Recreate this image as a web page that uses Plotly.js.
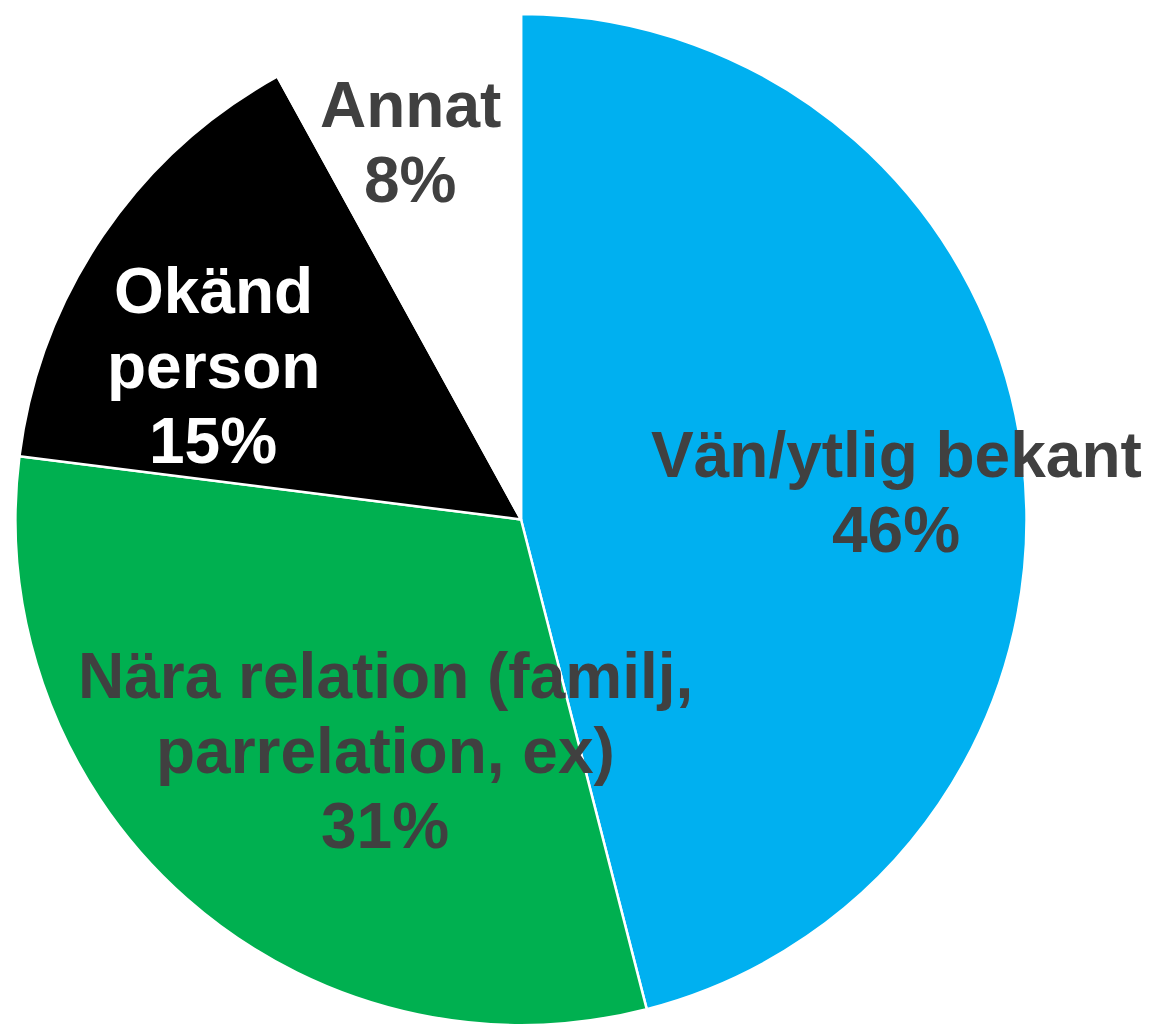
<!DOCTYPE html>
<html>
<head>
<meta charset="utf-8">
<script src="https://cdn.plot.ly/plotly-3.0.1.min.js"></script>
<style>html,body{margin:0;padding:0;background:#fff;}#chart{width:1155px;height:1025px;}</style>
</head>
<body>
<div id="chart"></div>
<script>
// Data
const categories = ['Vän/ytlig bekant', 'Nära relation (familj, parrelation, ex)', 'Okänd person', 'Annat'];
const values = [46, 31, 15, 8];
const labelLines = [
  ['Vän/ytlig bekant'],
  ['Nära relation (familj,', 'parrelation, ex)'],
  ['Okänd', 'person'],
  ['Annat']
];
const sliceColors = ['#00B0F0', '#00B050', '#000000', '#FFFFFF'];
const labelColors = ['#404040', '#404040', '#FFFFFF', '#404040'];

// Layout (pixels)
const W = 1155, H = 1025;
const cx = 521, cy = 520, R = 506;
const fontSize = 64;
const lineGap = 75;
// baseline of first line and centre x for each label
const labelPos = [
  {x: 896, y: 477},
  {x: 385, y: 698},
  {x: 213, y: 313},
  {x: 410, y: 127}
];

const annotations = [];
categories.forEach((c, i) => {
  const lines = labelLines[i].concat([values[i] + '%']);
  lines.forEach((ln, k) => {
    const base = labelPos[i].y + k * lineGap;
    annotations.push({
      text: ln,
      x: labelPos[i].x / W,
      y: 1 - (base - 22) / H,
      xref: 'paper', yref: 'paper',
      xanchor: 'center', yanchor: 'middle',
      showarrow: false,
      font: {family: 'Liberation Sans, Arial, sans-serif', size: fontSize, color: labelColors[i], weight: 'bold'}
    });
  });
});

const trace = {
  type: 'pie',
  labels: categories,
  values: values,
  sort: false,
  direction: 'clockwise',
  rotation: 0,
  textinfo: 'none',
  hoverinfo: 'label+percent',
  marker: {colors: sliceColors, line: {color: '#FFFFFF', width: 2.5}},
  domain: {x: [(cx - R) / W, (cx + R) / W], y: [Math.max(0, 1 - (cy + R) / H), 1 - (cy - R) / H]},
  showlegend: false
};

Plotly.newPlot('chart', [trace], {
  width: W, height: H,
  margin: {l: 0, r: 0, t: 0, b: 0},
  paper_bgcolor: '#FFFFFF',
  showlegend: false,
  annotations: annotations
}, {displayModeBar: false, staticPlot: true});
</script>
</body>
</html>
